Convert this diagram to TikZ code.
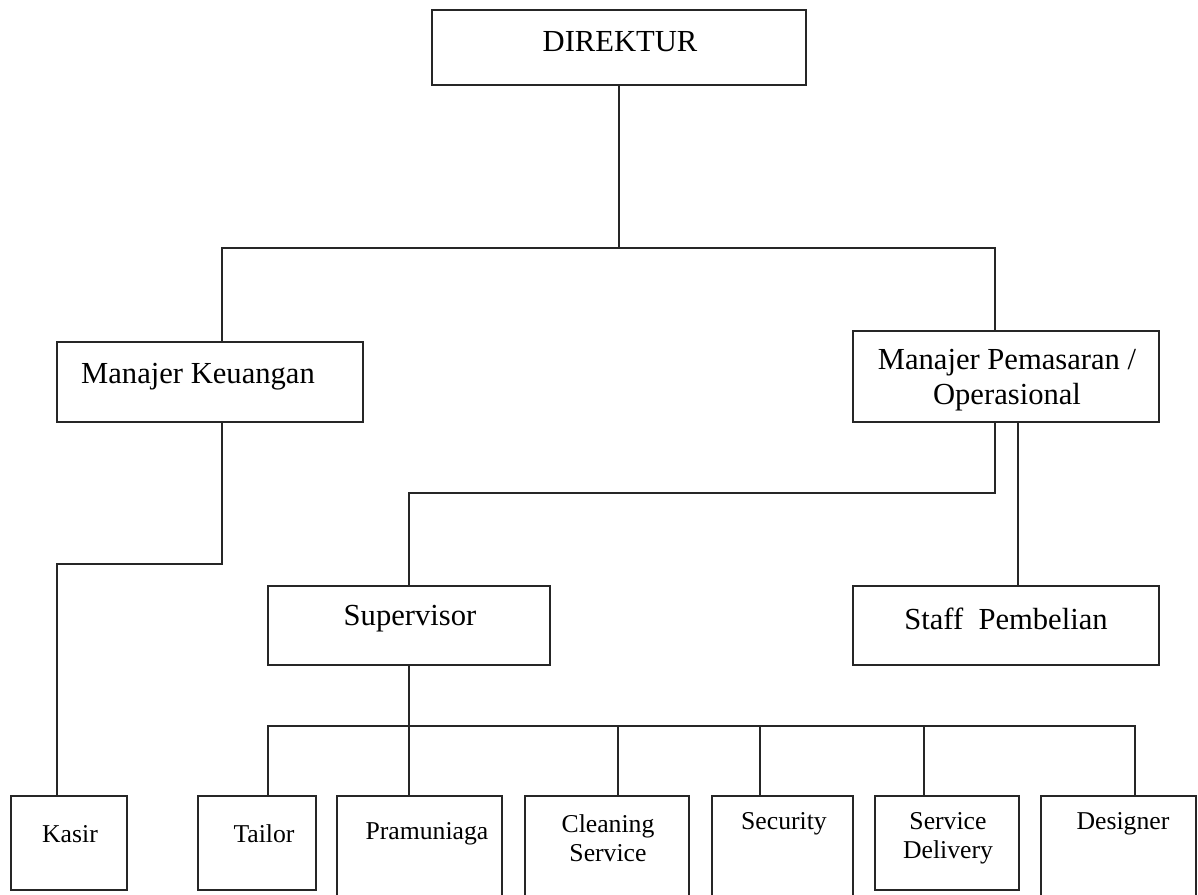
\documentclass[tikz,border=0pt]{standalone}
\usepackage{fontspec}
\setmainfont{Liberation Serif}
\begin{document}
\begin{tikzpicture}[x=0.5pt,y=-0.5pt,
  box/.style={draw=black!85, line width=0.9pt, rectangle, inner sep=0pt},
  conn/.style={draw=black!85, line width=0.9pt},
  bigtxt/.style={inner sep=0pt, font=\fontsize{15.3}{17.5}\selectfont, align=center},
  smalltxt/.style={inner sep=0pt, font=\fontsize{12.85}{14.5}\selectfont, align=center}]
\useasboundingbox[fill=white] (0,0) rectangle (1198,894);

% boxes
\node[box, minimum width=187pt, minimum height=37.5pt] (dir) at (619,47.5) {};
\node[box, minimum width=153pt, minimum height=40pt] (keu) at (210,382) {};
\node[box, minimum width=153pt, minimum height=45.5pt] (pem) at (1006,376.5) {};
\node[box, minimum width=141pt, minimum height=39.5pt] (sup) at (409,625.5) {};
\node[box, minimum width=153pt, minimum height=39.5pt] (stf) at (1006,625.5) {};
\node[box, minimum width=58pt, minimum height=47pt] (kas) at (69,843) {};
\node[box, minimum width=59pt, minimum height=47pt] (tai) at (257,843) {};
\node[box, minimum width=82.5pt, minimum height=54.5pt] (pra) at (419.5,850.5) {};
\node[box, minimum width=82pt, minimum height=54.5pt] (cle) at (607,850.5) {};
\node[box, minimum width=70.5pt, minimum height=54.5pt] (sec) at (782.5,850.5) {};
\node[box, minimum width=72pt, minimum height=47pt] (del) at (947,843) {};
\node[box, minimum width=77.5pt, minimum height=54.5pt] (des) at (1118.5,850.5) {};

% texts
\node[bigtxt] (tdir) at (620,42) {DIREKTUR};
\node[bigtxt] (tkeu) at (198,377) {Manajer Keuangan};
\node[bigtxt] (tpem) at (1007,380) {Manajer Pemasaran /\\Operasional};
\node[bigtxt] (tsup) at (410,619) {Supervisor};
\node[bigtxt] (tstf) at (1006,619) {Staff~ Pembelian};
\node[smalltxt] (tkas) at (70,834) {Kasir};
\node[smalltxt] (ttai) at (264,834) {Tailor};
\node[smalltxt] (tpra) at (427,834) {Pramuniaga};
\node[smalltxt] (tcle) at (608,838) {Cleaning\\Service};
\node[smalltxt] (tsec) at (784,824) {Security};
\node[smalltxt] (tdel) at (948,838) {Service\\Delivery};
\node[smalltxt] (tdes) at (1123,824) {Designer};

% junctions
\coordinate (t1) at (619,248);
\coordinate (t2) at (409,726);

% connectors
\draw[conn] (dir.south) -- (t1);
\draw[conn] ([xshift=6pt]keu.north) |- (t1) -| ([xshift=-5.5pt]pem.north);
\draw[conn] ([xshift=6pt]keu.south) -- ++(0,141) -| ([xshift=-6pt]kas.north);
\draw[conn] ([xshift=-5.5pt]pem.south) -- ++(0,70) -| (sup.north);
\draw[conn] ([xshift=6pt]pem.south) -- ([xshift=6pt]stf.north);
\draw[conn] (sup.south) -- (t2);
\draw[conn] (t2) -| ([xshift=5.5pt]tai.north);
\draw[conn] (t2) -- ([xshift=-5.25pt]pra.north);
\draw[conn] (t2) -| ([xshift=5.5pt]cle.north);
\draw[conn] (t2) -| ([xshift=-11.25pt]sec.north);
\draw[conn] (t2) -| ([xshift=-11.5pt]del.north);
\draw[conn] (t2) -| ([xshift=8.25pt]des.north);
\end{tikzpicture}
\end{document}
